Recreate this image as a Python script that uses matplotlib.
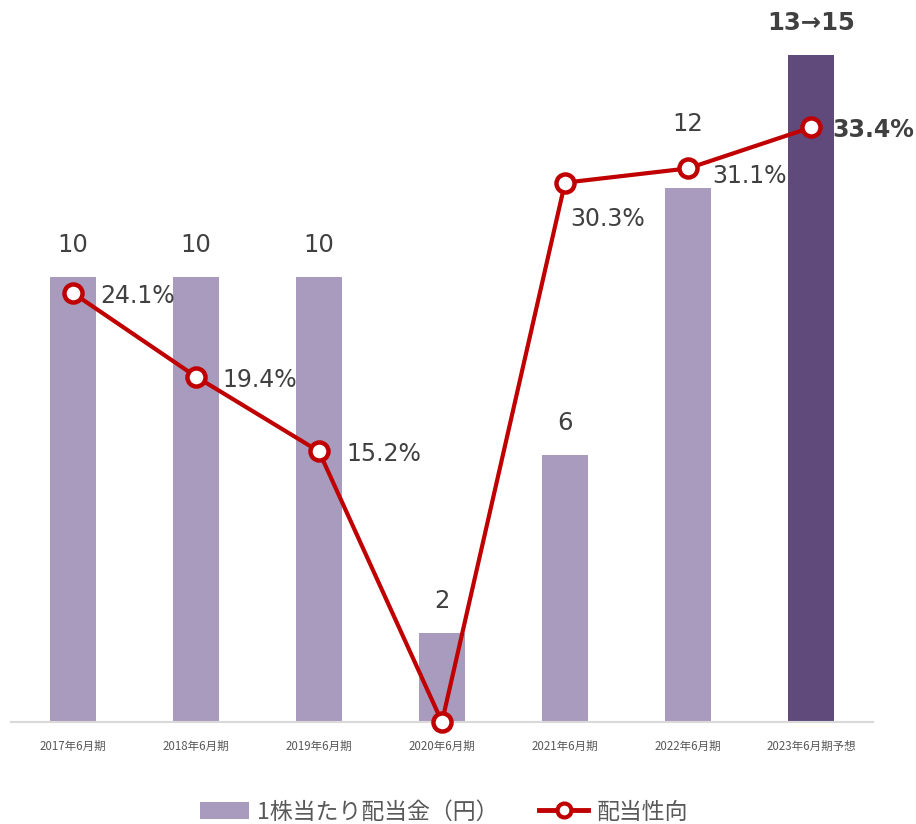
import matplotlib
matplotlib.use("Agg")
import matplotlib.pyplot as plt
from matplotlib.lines import Line2D
from matplotlib.patches import Patch

plt.rcParams['font.family'] = ['DejaVu Sans', 'Noto Sans CJK JP']

categories = ["2017年6月期", "2018年6月期", "2019年6月期", "2020年6月期",
              "2021年6月期", "2022年6月期", "2023年6月期予想"]
dividend = [10, 10, 10, 2, 6, 12, 15]
dividend_labels = ["10", "10", "10", "2", "6", "12", "13→15"]
payout = [24.1, 19.4, 15.2, 0.0, 30.3, 31.1, 33.4]
payout_labels = ["24.1%", "19.4%", "15.2%", "", "30.3%", "31.1%", "33.4%"]
legend_labels = ["1株当たり配当金（円）", "配当性向"]

light = "#A99BBD"
dark = "#604A7B"
red = "#C00000"
txt = "#404040"

fig = plt.figure(figsize=(9.16, 8.24), dpi=100)
ax = fig.add_axes([11.5/916, 102/824, 861/916, 702/824])
x = list(range(len(categories)))
colors = [light]*6 + [dark]
ax.bar(x, dividend, width=0.375, color=colors, zorder=2)
ax.set_xlim(-0.5, 6.5)
ax.set_ylim(0, 702/44.5)
for s in ["top", "right", "left"]:
    ax.spines[s].set_visible(False)
ax.spines["bottom"].set_color("#D9D9D9")
ax.spines["bottom"].set_linewidth(1.5)
ax.set_yticks([])
ax.set_xticks(x)
ax.set_xticklabels(categories, fontsize=8.3, color="#595959", family=['Noto Sans CJK JP'])
ax.tick_params(axis='x', length=0, pad=13)

# bar labels
bar_offsets = [32, 32, 32, 32, 32, 64, 32]
for i, (v, lab) in enumerate(zip(dividend, dividend_labels)):
    bold = (i == 6)
    ax.annotate(lab, (i, v), xytext=(0, bar_offsets[i]), textcoords='offset pixels',
                ha='center', va='center', fontsize=17.5, color=txt,
                fontweight='bold' if bold else 'normal')

ax2 = ax.twinx()
ax2.set_ylim(0, 702/17.8)
ax2.set_yticks([])
for s in ["top", "right", "left", "bottom"]:
    ax2.spines[s].set_visible(False)
ax2.plot(x, payout, color=red, linewidth=3, marker='o', markersize=13,
         markerfacecolor='white', markeredgecolor=red, markeredgewidth=3.2,
         clip_on=False, zorder=3)

pct_offsets = [(27, -3), (26, -3), (27, -3), (0, 0), (5, -36), (24, -8), (21, -3)]
for i, (v, lab) in enumerate(zip(payout, payout_labels)):
    if not lab:
        continue
    dx, dy = pct_offsets[i]
    ax2.annotate(lab, (i, v), xytext=(dx, dy), textcoords='offset pixels',
                 ha='left', va='center', fontsize=17, color=txt,
                 fontweight='bold' if i == 6 else 'normal')

handles = [Patch(facecolor=light, edgecolor='none'),
           Line2D([0], [0], color=red, linewidth=3.5, marker='o', markersize=10,
                  markerfacecolor='white', markeredgecolor=red, markeredgewidth=3)]
leg = fig.legend(handles, legend_labels, loc='center', bbox_to_anchor=(444/916, 1 - 812/824),
                 ncol=2, frameon=False,
                 prop={'family': ['Noto Sans CJK JP'], 'size': 16.5},
                 handlelength=2.15, handleheight=0.7, columnspacing=1.75, handletextpad=0.35)
for t in leg.get_texts():
    t.set_color("#595959")

fig.savefig("out.png", dpi=100)
